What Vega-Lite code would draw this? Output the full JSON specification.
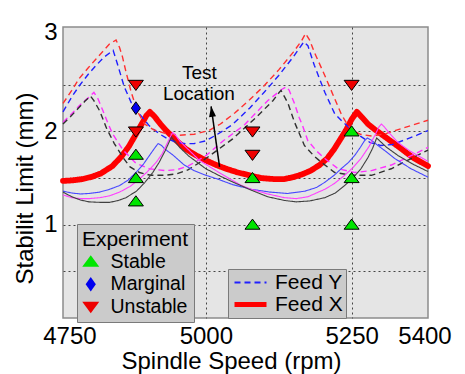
{
  "$schema": "https://vega.github.io/schema/vega-lite/v6.json",
  "width": 365,
  "height": 291,
  "autosize": {"type": "none"},
  "padding": {"left": 63, "top": 27, "right": 37, "bottom": 56},
  "background": "white",
  "config": {
    "font": "Liberation Sans",
    "view": {"fill": "#e5e5e5", "stroke": "#8c8c8c", "strokeWidth": 1.5},
    "axis": {"labelColor": "black", "titleColor": "black", "labelFontSize": 24, "titleFontSize": 24, "titleFontWeight": "normal", "ticks": false, "domain": false, "gridColor": "#444444", "gridDash": [2, 3], "gridWidth": 1}
  },
  "datasets": {
    "curves": [
      {"curve": "Feed X", "rpm": 4755, "limit": 1.47}, {"curve": "Feed X", "rpm": 4770, "limit": 1.475}, {"curve": "Feed X", "rpm": 4789, "limit": 1.49}, {"curve": "Feed X", "rpm": 4805, "limit": 1.515}, {"curve": "Feed X", "rpm": 4820, "limit": 1.55}, {"curve": "Feed X", "rpm": 4840, "limit": 1.63}, {"curve": "Feed X", "rpm": 4855, "limit": 1.73}, {"curve": "Feed X", "rpm": 4868, "limit": 1.84}, {"curve": "Feed X", "rpm": 4880, "limit": 1.97}, {"curve": "Feed X", "rpm": 4890, "limit": 2.08}, {"curve": "Feed X", "rpm": 4898, "limit": 2.17}, {"curve": "Feed X", "rpm": 4904, "limit": 2.21}, {"curve": "Feed X", "rpm": 4912, "limit": 2.16}, {"curve": "Feed X", "rpm": 4922, "limit": 2.08}, {"curve": "Feed X", "rpm": 4932, "limit": 2.01}, {"curve": "Feed X", "rpm": 4948, "limit": 1.91}, {"curve": "Feed X", "rpm": 4966, "limit": 1.81}, {"curve": "Feed X", "rpm": 4983, "limit": 1.745}, {"curve": "Feed X", "rpm": 5000, "limit": 1.69}, {"curve": "Feed X", "rpm": 5018, "limit": 1.64}, {"curve": "Feed X", "rpm": 5035, "limit": 1.6}, {"curve": "Feed X", "rpm": 5055, "limit": 1.56}, {"curve": "Feed X", "rpm": 5075, "limit": 1.53}, {"curve": "Feed X", "rpm": 5095, "limit": 1.5}, {"curve": "Feed X", "rpm": 5115, "limit": 1.49}, {"curve": "Feed X", "rpm": 5135, "limit": 1.49}, {"curve": "Feed X", "rpm": 5150, "limit": 1.51}, {"curve": "Feed X", "rpm": 5165, "limit": 1.54}, {"curve": "Feed X", "rpm": 5180, "limit": 1.58}, {"curve": "Feed X", "rpm": 5195, "limit": 1.64}, {"curve": "Feed X", "rpm": 5208, "limit": 1.71}, {"curve": "Feed X", "rpm": 5220, "limit": 1.81}, {"curve": "Feed X", "rpm": 5230, "limit": 1.91}, {"curve": "Feed X", "rpm": 5240, "limit": 2.01}, {"curve": "Feed X", "rpm": 5250, "limit": 2.13}, {"curve": "Feed X", "rpm": 5259, "limit": 2.21}, {"curve": "Feed X", "rpm": 5268, "limit": 2.15}, {"curve": "Feed X", "rpm": 5278, "limit": 2.08}, {"curve": "Feed X", "rpm": 5290, "limit": 2.02}, {"curve": "Feed X", "rpm": 5310, "limit": 1.93}, {"curve": "Feed X", "rpm": 5332, "limit": 1.83}, {"curve": "Feed X", "rpm": 5355, "limit": 1.72}, {"curve": "Feed X", "rpm": 5381, "limit": 1.63},

      {"curve": "Feed Y", "rpm": 4755, "limit": 2.21}, {"curve": "Feed Y", "rpm": 4770, "limit": 2.37}, {"curve": "Feed Y", "rpm": 4783, "limit": 2.49}, {"curve": "Feed Y", "rpm": 4798, "limit": 2.61}, {"curve": "Feed Y", "rpm": 4812, "limit": 2.71}, {"curve": "Feed Y", "rpm": 4826, "limit": 2.8}, {"curve": "Feed Y", "rpm": 4841, "limit": 2.87}, {"curve": "Feed Y", "rpm": 4849, "limit": 2.71}, {"curve": "Feed Y", "rpm": 4860, "limit": 2.48}, {"curve": "Feed Y", "rpm": 4872, "limit": 2.31}, {"curve": "Feed Y", "rpm": 4886, "limit": 2.19}, {"curve": "Feed Y", "rpm": 4903, "limit": 2.06}, {"curve": "Feed Y", "rpm": 4920, "limit": 1.975}, {"curve": "Feed Y", "rpm": 4935, "limit": 1.92}, {"curve": "Feed Y", "rpm": 4949, "limit": 1.885}, {"curve": "Feed Y", "rpm": 4965, "limit": 1.87}, {"curve": "Feed Y", "rpm": 4980, "limit": 1.87}, {"curve": "Feed Y", "rpm": 5000, "limit": 1.9}, {"curve": "Feed Y", "rpm": 5020, "limit": 1.97}, {"curve": "Feed Y", "rpm": 5045, "limit": 2.07}, {"curve": "Feed Y", "rpm": 5075, "limit": 2.25}, {"curve": "Feed Y", "rpm": 5100, "limit": 2.42}, {"curve": "Feed Y", "rpm": 5125, "limit": 2.6}, {"curve": "Feed Y", "rpm": 5150, "limit": 2.8}, {"curve": "Feed Y", "rpm": 5168, "limit": 2.96}, {"curve": "Feed Y", "rpm": 5175, "limit": 2.92}, {"curve": "Feed Y", "rpm": 5186, "limit": 2.71}, {"curve": "Feed Y", "rpm": 5204, "limit": 2.42}, {"curve": "Feed Y", "rpm": 5221, "limit": 2.19}, {"curve": "Feed Y", "rpm": 5235, "limit": 2.1}, {"curve": "Feed Y", "rpm": 5250, "limit": 2.02}, {"curve": "Feed Y", "rpm": 5265, "limit": 1.95}, {"curve": "Feed Y", "rpm": 5282, "limit": 1.88}, {"curve": "Feed Y", "rpm": 5300, "limit": 1.85}, {"curve": "Feed Y", "rpm": 5320, "limit": 1.86}, {"curve": "Feed Y", "rpm": 5341, "limit": 1.91}, {"curve": "Feed Y", "rpm": 5362, "limit": 1.96}, {"curve": "Feed Y", "rpm": 5381, "limit": 2.01},

      {"curve": "Feed Y, red", "rpm": 4755, "limit": 2.3}, {"curve": "Feed Y, red", "rpm": 4770, "limit": 2.44}, {"curve": "Feed Y, red", "rpm": 4783, "limit": 2.57}, {"curve": "Feed Y, red", "rpm": 4798, "limit": 2.68}, {"curve": "Feed Y, red", "rpm": 4812, "limit": 2.78}, {"curve": "Feed Y, red", "rpm": 4825, "limit": 2.87}, {"curve": "Feed Y, red", "rpm": 4835, "limit": 2.94}, {"curve": "Feed Y, red", "rpm": 4846, "limit": 2.98}, {"curve": "Feed Y, red", "rpm": 4852, "limit": 2.9}, {"curve": "Feed Y, red", "rpm": 4857, "limit": 2.8}, {"curve": "Feed Y, red", "rpm": 4863, "limit": 2.64}, {"curve": "Feed Y, red", "rpm": 4872, "limit": 2.42}, {"curve": "Feed Y, red", "rpm": 4883, "limit": 2.21}, {"curve": "Feed Y, red", "rpm": 4895, "limit": 2.08}, {"curve": "Feed Y, red", "rpm": 4910, "limit": 2.02}, {"curve": "Feed Y, red", "rpm": 4930, "limit": 1.98}, {"curve": "Feed Y, red", "rpm": 4955, "limit": 1.96}, {"curve": "Feed Y, red", "rpm": 4980, "limit": 1.97}, {"curve": "Feed Y, red", "rpm": 5005, "limit": 2.01}, {"curve": "Feed Y, red", "rpm": 5025, "limit": 2.08}, {"curve": "Feed Y, red", "rpm": 5050, "limit": 2.2}, {"curve": "Feed Y, red", "rpm": 5075, "limit": 2.34}, {"curve": "Feed Y, red", "rpm": 5100, "limit": 2.49}, {"curve": "Feed Y, red", "rpm": 5125, "limit": 2.66}, {"curve": "Feed Y, red", "rpm": 5150, "limit": 2.85}, {"curve": "Feed Y, red", "rpm": 5164, "limit": 2.97}, {"curve": "Feed Y, red", "rpm": 5171, "limit": 3.05}, {"curve": "Feed Y, red", "rpm": 5178, "limit": 2.98}, {"curve": "Feed Y, red", "rpm": 5186, "limit": 2.85}, {"curve": "Feed Y, red", "rpm": 5204, "limit": 2.6}, {"curve": "Feed Y, red", "rpm": 5221, "limit": 2.35}, {"curve": "Feed Y, red", "rpm": 5232, "limit": 2.19}, {"curve": "Feed Y, red", "rpm": 5242, "limit": 2.08}, {"curve": "Feed Y, red", "rpm": 5252, "limit": 2.01}, {"curve": "Feed Y, red", "rpm": 5265, "limit": 1.97}, {"curve": "Feed Y, red", "rpm": 5285, "limit": 1.95}, {"curve": "Feed Y, red", "rpm": 5310, "limit": 1.98}, {"curve": "Feed Y, red", "rpm": 5340, "limit": 2.04}, {"curve": "Feed Y, red", "rpm": 5381, "limit": 2.12},

      {"curve": "Feed Y, magenta", "rpm": 4755, "limit": 2.1}, {"curve": "Feed Y, magenta", "rpm": 4770, "limit": 2.19}, {"curve": "Feed Y, magenta", "rpm": 4785, "limit": 2.29}, {"curve": "Feed Y, magenta", "rpm": 4800, "limit": 2.37}, {"curve": "Feed Y, magenta", "rpm": 4808, "limit": 2.42}, {"curve": "Feed Y, magenta", "rpm": 4815, "limit": 2.35}, {"curve": "Feed Y, magenta", "rpm": 4823, "limit": 2.23}, {"curve": "Feed Y, magenta", "rpm": 4832, "limit": 2.09}, {"curve": "Feed Y, magenta", "rpm": 4840, "limit": 1.975}, {"curve": "Feed Y, magenta", "rpm": 4858, "limit": 1.8}, {"curve": "Feed Y, magenta", "rpm": 4880, "limit": 1.66}, {"curve": "Feed Y, magenta", "rpm": 4903, "limit": 1.6}, {"curve": "Feed Y, magenta", "rpm": 4930, "limit": 1.58}, {"curve": "Feed Y, magenta", "rpm": 4950, "limit": 1.59}, {"curve": "Feed Y, magenta", "rpm": 4970, "limit": 1.63}, {"curve": "Feed Y, magenta", "rpm": 5000, "limit": 1.74}, {"curve": "Feed Y, magenta", "rpm": 5030, "limit": 1.9}, {"curve": "Feed Y, magenta", "rpm": 5066, "limit": 2.07}, {"curve": "Feed Y, magenta", "rpm": 5106, "limit": 2.33}, {"curve": "Feed Y, magenta", "rpm": 5130, "limit": 2.45}, {"curve": "Feed Y, magenta", "rpm": 5138, "limit": 2.48}, {"curve": "Feed Y, magenta", "rpm": 5143, "limit": 2.44}, {"curve": "Feed Y, magenta", "rpm": 5152, "limit": 2.3}, {"curve": "Feed Y, magenta", "rpm": 5160, "limit": 2.15}, {"curve": "Feed Y, magenta", "rpm": 5166, "limit": 2.06}, {"curve": "Feed Y, magenta", "rpm": 5175, "limit": 1.9}, {"curve": "Feed Y, magenta", "rpm": 5190, "limit": 1.79}, {"curve": "Feed Y, magenta", "rpm": 5204, "limit": 1.71}, {"curve": "Feed Y, magenta", "rpm": 5227, "limit": 1.6}, {"curve": "Feed Y, magenta", "rpm": 5255, "limit": 1.56}, {"curve": "Feed Y, magenta", "rpm": 5284, "limit": 1.58}, {"curve": "Feed Y, magenta", "rpm": 5318, "limit": 1.64}, {"curve": "Feed Y, magenta", "rpm": 5352, "limit": 1.74}, {"curve": "Feed Y, magenta", "rpm": 5381, "limit": 1.83},

      {"curve": "Feed Y, black", "rpm": 4755, "limit": 2.08}, {"curve": "Feed Y, black", "rpm": 4768, "limit": 2.16}, {"curve": "Feed Y, black", "rpm": 4780, "limit": 2.24}, {"curve": "Feed Y, black", "rpm": 4792, "limit": 2.32}, {"curve": "Feed Y, black", "rpm": 4802, "limit": 2.38}, {"curve": "Feed Y, black", "rpm": 4808, "limit": 2.33}, {"curve": "Feed Y, black", "rpm": 4818, "limit": 2.22}, {"curve": "Feed Y, black", "rpm": 4830, "limit": 2.03}, {"curve": "Feed Y, black", "rpm": 4843, "limit": 1.87}, {"curve": "Feed Y, black", "rpm": 4858, "limit": 1.72}, {"curve": "Feed Y, black", "rpm": 4870, "limit": 1.62}, {"curve": "Feed Y, black", "rpm": 4886, "limit": 1.56}, {"curve": "Feed Y, black", "rpm": 4905, "limit": 1.53}, {"curve": "Feed Y, black", "rpm": 4930, "limit": 1.53}, {"curve": "Feed Y, black", "rpm": 4950, "limit": 1.545}, {"curve": "Feed Y, black", "rpm": 4970, "limit": 1.59}, {"curve": "Feed Y, black", "rpm": 5000, "limit": 1.71}, {"curve": "Feed Y, black", "rpm": 5046, "limit": 1.92}, {"curve": "Feed Y, black", "rpm": 5086, "limit": 2.15}, {"curve": "Feed Y, black", "rpm": 5115, "limit": 2.33}, {"curve": "Feed Y, black", "rpm": 5126, "limit": 2.42}, {"curve": "Feed Y, black", "rpm": 5129, "limit": 2.44}, {"curve": "Feed Y, black", "rpm": 5135, "limit": 2.37}, {"curve": "Feed Y, black", "rpm": 5141, "limit": 2.3}, {"curve": "Feed Y, black", "rpm": 5152, "limit": 2.1}, {"curve": "Feed Y, black", "rpm": 5169, "limit": 1.85}, {"curve": "Feed Y, black", "rpm": 5185, "limit": 1.74}, {"curve": "Feed Y, black", "rpm": 5198, "limit": 1.67}, {"curve": "Feed Y, black", "rpm": 5221, "limit": 1.56}, {"curve": "Feed Y, black", "rpm": 5250, "limit": 1.53}, {"curve": "Feed Y, black", "rpm": 5284, "limit": 1.53}, {"curve": "Feed Y, black", "rpm": 5318, "limit": 1.6}, {"curve": "Feed Y, black", "rpm": 5352, "limit": 1.71}, {"curve": "Feed Y, black", "rpm": 5381, "limit": 1.8},

      {"curve": "Feed X, blue", "rpm": 4755, "limit": 1.36}, {"curve": "Feed X, blue", "rpm": 4770, "limit": 1.34}, {"curve": "Feed X, blue", "rpm": 4785, "limit": 1.33}, {"curve": "Feed X, blue", "rpm": 4800, "limit": 1.335}, {"curve": "Feed X, blue", "rpm": 4818, "limit": 1.35}, {"curve": "Feed X, blue", "rpm": 4835, "limit": 1.38}, {"curve": "Feed X, blue", "rpm": 4852, "limit": 1.42}, {"curve": "Feed X, blue", "rpm": 4867, "limit": 1.48}, {"curve": "Feed X, blue", "rpm": 4880, "limit": 1.56}, {"curve": "Feed X, blue", "rpm": 4893, "limit": 1.65}, {"curve": "Feed X, blue", "rpm": 4903, "limit": 1.74}, {"curve": "Feed X, blue", "rpm": 4912, "limit": 1.82}, {"curve": "Feed X, blue", "rpm": 4918, "limit": 1.87}, {"curve": "Feed X, blue", "rpm": 4924, "limit": 1.85}, {"curve": "Feed X, blue", "rpm": 4930, "limit": 1.81}, {"curve": "Feed X, blue", "rpm": 4943, "limit": 1.75}, {"curve": "Feed X, blue", "rpm": 4963, "limit": 1.64}, {"curve": "Feed X, blue", "rpm": 4980, "limit": 1.58}, {"curve": "Feed X, blue", "rpm": 5000, "limit": 1.53}, {"curve": "Feed X, blue", "rpm": 5020, "limit": 1.49}, {"curve": "Feed X, blue", "rpm": 5046, "limit": 1.43}, {"curve": "Feed X, blue", "rpm": 5078, "limit": 1.38}, {"curve": "Feed X, blue", "rpm": 5110, "limit": 1.35}, {"curve": "Feed X, blue", "rpm": 5140, "limit": 1.335}, {"curve": "Feed X, blue", "rpm": 5170, "limit": 1.36}, {"curve": "Feed X, blue", "rpm": 5190, "limit": 1.4}, {"curve": "Feed X, blue", "rpm": 5204, "limit": 1.455}, {"curve": "Feed X, blue", "rpm": 5220, "limit": 1.53}, {"curve": "Feed X, blue", "rpm": 5232, "limit": 1.6}, {"curve": "Feed X, blue", "rpm": 5245, "limit": 1.67}, {"curve": "Feed X, blue", "rpm": 5255, "limit": 1.74}, {"curve": "Feed X, blue", "rpm": 5265, "limit": 1.83}, {"curve": "Feed X, blue", "rpm": 5272, "limit": 1.9}, {"curve": "Feed X, blue", "rpm": 5277, "limit": 1.93}, {"curve": "Feed X, blue", "rpm": 5283, "limit": 1.91}, {"curve": "Feed X, blue", "rpm": 5295, "limit": 1.85}, {"curve": "Feed X, blue", "rpm": 5310, "limit": 1.78}, {"curve": "Feed X, blue", "rpm": 5324, "limit": 1.71}, {"curve": "Feed X, blue", "rpm": 5352, "limit": 1.6}, {"curve": "Feed X, blue", "rpm": 5381, "limit": 1.51},

      {"curve": "Feed X, magenta", "rpm": 4755, "limit": 1.32}, {"curve": "Feed X, magenta", "rpm": 4770, "limit": 1.29}, {"curve": "Feed X, magenta", "rpm": 4785, "limit": 1.28}, {"curve": "Feed X, magenta", "rpm": 4800, "limit": 1.28}, {"curve": "Feed X, magenta", "rpm": 4818, "limit": 1.29}, {"curve": "Feed X, magenta", "rpm": 4835, "limit": 1.31}, {"curve": "Feed X, magenta", "rpm": 4852, "limit": 1.35}, {"curve": "Feed X, magenta", "rpm": 4870, "limit": 1.41}, {"curve": "Feed X, magenta", "rpm": 4886, "limit": 1.49}, {"curve": "Feed X, magenta", "rpm": 4900, "limit": 1.57}, {"curve": "Feed X, magenta", "rpm": 4915, "limit": 1.67}, {"curve": "Feed X, magenta", "rpm": 4925, "limit": 1.76}, {"curve": "Feed X, magenta", "rpm": 4932, "limit": 1.85}, {"curve": "Feed X, magenta", "rpm": 4938, "limit": 1.93}, {"curve": "Feed X, magenta", "rpm": 4943, "limit": 1.99}, {"curve": "Feed X, magenta", "rpm": 4948, "limit": 1.96}, {"curve": "Feed X, magenta", "rpm": 4955, "limit": 1.9}, {"curve": "Feed X, magenta", "rpm": 4966, "limit": 1.83}, {"curve": "Feed X, magenta", "rpm": 4989, "limit": 1.69}, {"curve": "Feed X, magenta", "rpm": 5020, "limit": 1.57}, {"curve": "Feed X, magenta", "rpm": 5058, "limit": 1.43}, {"curve": "Feed X, magenta", "rpm": 5078, "limit": 1.38}, {"curve": "Feed X, magenta", "rpm": 5106, "limit": 1.33}, {"curve": "Feed X, magenta", "rpm": 5135, "limit": 1.29}, {"curve": "Feed X, magenta", "rpm": 5155, "limit": 1.28}, {"curve": "Feed X, magenta", "rpm": 5175, "limit": 1.3}, {"curve": "Feed X, magenta", "rpm": 5204, "limit": 1.38}, {"curve": "Feed X, magenta", "rpm": 5220, "limit": 1.44}, {"curve": "Feed X, magenta", "rpm": 5238, "limit": 1.53}, {"curve": "Feed X, magenta", "rpm": 5252, "limit": 1.61}, {"curve": "Feed X, magenta", "rpm": 5266, "limit": 1.71}, {"curve": "Feed X, magenta", "rpm": 5280, "limit": 1.84}, {"curve": "Feed X, magenta", "rpm": 5290, "limit": 1.96}, {"curve": "Feed X, magenta", "rpm": 5297, "limit": 2.05}, {"curve": "Feed X, magenta", "rpm": 5301, "limit": 2.08}, {"curve": "Feed X, magenta", "rpm": 5306, "limit": 2.05}, {"curve": "Feed X, magenta", "rpm": 5315, "limit": 1.98}, {"curve": "Feed X, magenta", "rpm": 5330, "limit": 1.88}, {"curve": "Feed X, magenta", "rpm": 5350, "limit": 1.79}, {"curve": "Feed X, magenta", "rpm": 5381, "limit": 1.68},

      {"curve": "Feed X, black", "rpm": 4755, "limit": 1.35}, {"curve": "Feed X, black", "rpm": 4770, "limit": 1.3}, {"curve": "Feed X, black", "rpm": 4785, "limit": 1.265}, {"curve": "Feed X, black", "rpm": 4800, "limit": 1.245}, {"curve": "Feed X, black", "rpm": 4818, "limit": 1.24}, {"curve": "Feed X, black", "rpm": 4835, "limit": 1.24}, {"curve": "Feed X, black", "rpm": 4850, "limit": 1.26}, {"curve": "Feed X, black", "rpm": 4863, "limit": 1.29}, {"curve": "Feed X, black", "rpm": 4881, "limit": 1.36}, {"curve": "Feed X, black", "rpm": 4895, "limit": 1.45}, {"curve": "Feed X, black", "rpm": 4909, "limit": 1.56}, {"curve": "Feed X, black", "rpm": 4920, "limit": 1.67}, {"curve": "Feed X, black", "rpm": 4930, "limit": 1.79}, {"curve": "Feed X, black", "rpm": 4938, "limit": 1.9}, {"curve": "Feed X, black", "rpm": 4941, "limit": 1.94}, {"curve": "Feed X, black", "rpm": 4946, "limit": 1.9}, {"curve": "Feed X, black", "rpm": 4955, "limit": 1.83}, {"curve": "Feed X, black", "rpm": 4970, "limit": 1.74}, {"curve": "Feed X, black", "rpm": 5000, "limit": 1.6}, {"curve": "Feed X, black", "rpm": 5025, "limit": 1.52}, {"curve": "Feed X, black", "rpm": 5049, "limit": 1.45}, {"curve": "Feed X, black", "rpm": 5078, "limit": 1.37}, {"curve": "Feed X, black", "rpm": 5106, "limit": 1.3}, {"curve": "Feed X, black", "rpm": 5135, "limit": 1.26}, {"curve": "Feed X, black", "rpm": 5155, "limit": 1.245}, {"curve": "Feed X, black", "rpm": 5178, "limit": 1.255}, {"curve": "Feed X, black", "rpm": 5204, "limit": 1.29}, {"curve": "Feed X, black", "rpm": 5222, "limit": 1.34}, {"curve": "Feed X, black", "rpm": 5238, "limit": 1.42}, {"curve": "Feed X, black", "rpm": 5252, "limit": 1.5}, {"curve": "Feed X, black", "rpm": 5266, "limit": 1.6}, {"curve": "Feed X, black", "rpm": 5278, "limit": 1.72}, {"curve": "Feed X, black", "rpm": 5286, "limit": 1.82}, {"curve": "Feed X, black", "rpm": 5293, "limit": 1.93}, {"curve": "Feed X, black", "rpm": 5298, "limit": 1.9}, {"curve": "Feed X, black", "rpm": 5310, "limit": 1.83}, {"curve": "Feed X, black", "rpm": 5330, "limit": 1.74}, {"curve": "Feed X, black", "rpm": 5355, "limit": 1.65}, {"curve": "Feed X, black", "rpm": 5381, "limit": 1.57}
    ],
    "tests": [
      {"result": "Unstable", "rpm": 4880, "limit": 2.5},
      {"result": "Marginal", "rpm": 4880, "limit": 2.25},
      {"result": "Unstable", "rpm": 4880, "limit": 2.0},
      {"result": "Stable", "rpm": 4880, "limit": 1.75},
      {"result": "Stable", "rpm": 4880, "limit": 1.5},
      {"result": "Stable", "rpm": 4880, "limit": 1.25},
      {"result": "Unstable", "rpm": 5080, "limit": 2.0},
      {"result": "Unstable", "rpm": 5080, "limit": 1.75},
      {"result": "Stable", "rpm": 5080, "limit": 1.5},
      {"result": "Stable", "rpm": 5080, "limit": 1.0},
      {"result": "Unstable", "rpm": 5250, "limit": 2.5},
      {"result": "Stable", "rpm": 5250, "limit": 2.0},
      {"result": "Stable", "rpm": 5250, "limit": 1.5},
      {"result": "Stable", "rpm": 5250, "limit": 1.0}
    ],
    "notes": [
      {"label": "Test", "rpm": 4989, "limit": 2.567},
      {"label": "Location", "rpm": 4988, "limit": 2.333}
    ],
    "arrow": [
      {"rpm": 5023.5, "limit": 1.62, "rpm2": 5009, "limit2": 2.27}
    ]
  },
  "encoding": {
    "x": {"field": "rpm", "type": "quantitative", "scale": {"domain": [4755, 5381], "nice": false, "zero": false},
      "axis": {"title": "Spindle Speed (rpm)", "values": [4766, 5000, 5250, 5375], "labelExpr": "datum.value < 4800 ? '4750' : datum.value > 5300 ? '5400' : datum.value == 5000 ? '5000' : '5250'", "labelPadding": 6, "labelFlush": false, "labelOverlap": false, "grid": true, "gridOpacity": {"condition": {"test": "datum.value == 5000 || datum.value == 5250", "value": 1}, "value": 0}, "titleX": 168, "titleY": 50, "titleAlign": "center", "titleBaseline": "alphabetic"}},
    "y": {"field": "limit", "type": "quantitative", "scale": {"domain": [0, 3.12], "nice": false, "zero": false},
      "axis": {"title": "Stabilit Limit (mm)", "values": [0.5, 1, 1.5, 2, 2.5, 3.065], "labelExpr": "datum.value == 1 ? '1' : datum.value == 2 ? '2' : datum.value > 3 ? '3' : ''", "labelPadding": 6, "labelFlush": false, "labelOverlap": false, "grid": true, "gridOpacity": {"condition": {"test": "datum.value > 3", "value": 0}, "value": 1}, "titleX": -31, "titleY": 161, "titleAngle": 270, "titleAlign": "center", "titleBaseline": "alphabetic"}}
  },
  "layer": [
    {
      "data": {"name": "curves"},
      "transform": [{"filter": "datum.curve == 'Feed X'"}],
      "mark": {"type": "line", "strokeWidth": 5.8, "strokeCap": "round", "strokeJoin": "round"},
      "encoding": {
        "stroke": {"field": "curve", "type": "nominal",
          "scale": {"domain": ["Feed Y", "Feed X", "Feed Y, red", "Feed Y, magenta", "Feed Y, black", "Feed X, blue", "Feed X, magenta", "Feed X, black"], "range": ["#2020ff", "#ff0000", "#ff3030", "#ff30ff", "#303030", "#4848ff", "#ff40ff", "#404040"]},
          "legend": {"values": ["Feed Y", "Feed X"], "title": null, "orient": "none", "legendX": 165, "legendY": 242, "fillColor": "#cbcbcb", "strokeColor": "#7a7a7a", "padding": 3, "labelFontSize": 21, "labelColor": "black", "symbolType": "M-1.6,0H1.6", "symbolSize": 400, "symbolOffset": 9, "labelOffset": 14, "rowPadding": 0,
            "encode": {"symbols": {"update": {"strokeDash": {"signal": "datum.value === 'Feed Y' ? [5, 3] : [1, 0]"}, "strokeWidth": {"signal": "datum.value === 'Feed Y' ? 2.2 : 5"}}}}}},
        "strokeDash": {"field": "curve", "type": "nominal", "legend": null,
          "scale": {"domain": ["Feed Y", "Feed X", "Feed Y, red", "Feed Y, magenta", "Feed Y, black", "Feed X, blue", "Feed X, magenta", "Feed X, black"], "range": [[6, 4], [1, 0], [6, 4], [6, 4], [6, 4], [1, 0], [1, 0], [1, 0]]}}
      }
    },
    {
      "data": {"name": "curves"},
      "transform": [{"filter": "indexof(datum.curve, 'Feed X') < 0"}],
      "mark": {"type": "line", "strokeWidth": 1.4},
      "encoding": {
        "stroke": {"field": "curve", "type": "nominal"},
        "strokeDash": {"field": "curve", "type": "nominal", "legend": null}
      }
    },
    {
      "data": {"name": "curves"},
      "transform": [{"filter": "indexof(datum.curve, 'Feed X,') == 0"}],
      "mark": {"type": "line", "strokeWidth": 1.1},
      "encoding": {
        "stroke": {"field": "curve", "type": "nominal"},
        "strokeDash": {"field": "curve", "type": "nominal", "legend": null}
      }
    },
    {
      "data": {"name": "arrow"},
      "mark": {"type": "rule", "color": "black", "strokeWidth": 1.5},
      "encoding": {"x2": {"field": "rpm2"}, "y2": {"field": "limit2"}}
    },
    {
      "data": {"name": "arrow"},
      "mark": {"type": "point", "shape": "M0,0L0.5,1.5L-0.5,1.5Z", "filled": true, "color": "black", "opacity": 1, "size": 196, "angle": -8},
      "encoding": {"x": {"field": "rpm2", "type": "quantitative"}, "y": {"field": "limit2", "type": "quantitative"}}
    },
    {
      "data": {"name": "notes"},
      "mark": {"type": "text", "fontSize": 19, "color": "black", "align": "center", "baseline": "alphabetic"},
      "encoding": {"text": {"field": "label"}}
    },
    {
      "data": {"name": "tests"},
      "mark": {"type": "point", "filled": true, "opacity": 1, "stroke": "black", "strokeWidth": 1, "size": 225},
      "encoding": {
        "fill": {"field": "result", "type": "nominal",
          "scale": {"domain": ["Stable", "Marginal", "Unstable"], "range": ["#00e600", "#0000ee", "#ee0000"]},
          "legend": {"title": "Experiment", "orient": "none", "legendX": 14, "legendY": 197, "fillColor": "#cbcbcb", "strokeColor": "#7a7a7a", "padding": 5, "titleFontSize": 21, "titleFontWeight": "normal", "titleColor": "black", "titlePadding": 2, "titleAnchor": "middle", "labelFontSize": 19.5, "labelColor": "black", "symbolSize": 290, "symbolOffset": -2, "labelOffset": 10, "rowPadding": 1.5, "symbolStrokeWidth": 0}},
        "shape": {"field": "result", "type": "nominal",
          "scale": {"domain": ["Stable", "Marginal", "Unstable"], "range": ["M0,-0.75L1,0.6L-1,0.6Z", "M0,-0.85L0.6,0L0,0.85L-0.6,0Z", "M0,0.75L1,-0.6L-1,-0.6Z"]},
          "legend": {"title": "Experiment", "orient": "none", "legendX": 14, "legendY": 197, "fillColor": "#cbcbcb", "strokeColor": "#7a7a7a", "padding": 5, "titleFontSize": 21, "titleFontWeight": "normal", "titleColor": "black", "titlePadding": 2, "titleAnchor": "middle", "labelFontSize": 19.5, "labelColor": "black", "symbolSize": 290, "symbolOffset": -2, "labelOffset": 10, "rowPadding": 1.5, "symbolStrokeWidth": 0}}
      }
    }
  ]
}
